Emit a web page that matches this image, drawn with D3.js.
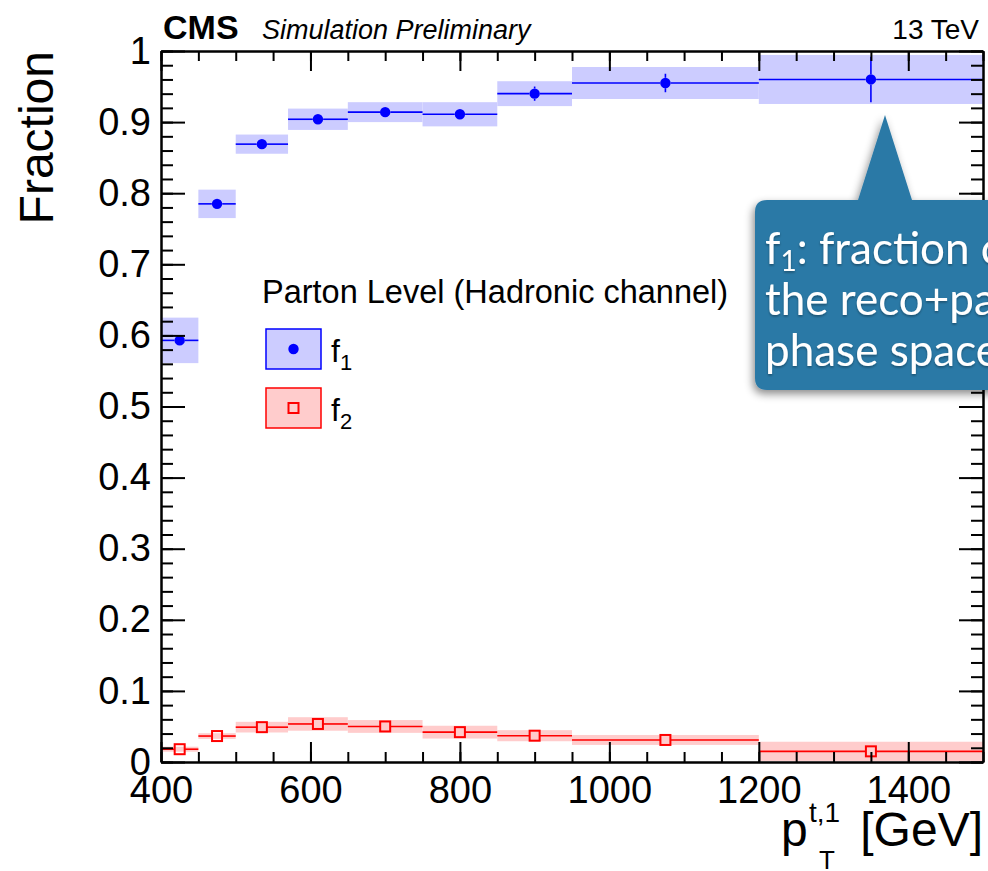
<!DOCTYPE html>
<html>
<head>
<meta charset="utf-8">
<script src="https://cdn.jsdelivr.net/npm/d3@7"></script>
<style>
  body { margin: 0; background: #fff; }
  svg { display: block; font-family: "Liberation Sans", Arial, Helvetica, sans-serif; }
</style>
</head>
<body>
<div id="chart"></div>
<script>
// bin edges of p_T^{t,1} in GeV
const binEdges = [400, 450, 500, 570, 650, 750, 850, 950, 1200, 1500];

// f1 (blue, filled circles): value, stat error, half height of the band
const f1Values = [0.593, 0.785, 0.869, 0.904, 0.914, 0.911, 0.940, 0.955, 0.960];
const f1Errors = [0.006, 0.004, 0.004, 0.004, 0.004, 0.004, 0.010, 0.013, 0.032];
const f1Bands  = [0.032, 0.020, 0.0135, 0.015, 0.014, 0.017, 0.0175, 0.0225, 0.0345];

// f2 (red, open squares)
const f2Values = [0.018, 0.0365, 0.049, 0.0535, 0.050, 0.042, 0.037, 0.031, 0.015];
const f2Errors = [0.003, 0.003, 0.003, 0.003, 0.003, 0.003, 0.003, 0.003, 0.004];
const f2Bands  = [0.0035, 0.004, 0.0075, 0.0095, 0.009, 0.009, 0.0078, 0.007, 0.0135];

// axis ticks
const xTickValues = [400, 600, 800, 1000, 1200, 1400];
const xTickLabels = ["400", "600", "800", "1000", "1200", "1400"];
const yTickValues = [0, 0.1, 0.2, 0.3, 0.4, 0.5, 0.6, 0.7, 0.8, 0.9, 1];
const yTickLabels = ["0", "0.1", "0.2", "0.3", "0.4", "0.5", "0.6", "0.7", "0.8", "0.9", "1"];

const legendTitle = "Parton Level (Hadronic channel)";
const legendNames = ["f", "f"];
const legendSubs = ["1", "2"];
const calloutLines = [": fraction of events in", "the reco+parton level", "phase space"];

const W = 988, H = 871;
const plot = {left: 161, top: 51, right: 983, bottom: 762};

const svg = d3.select("#chart")
    .append("svg")
    .attr("width", W)
    .attr("height", H);

const x = d3.scaleLinear().domain([400, 1500]).range([plot.left, plot.right]);
const y = d3.scaleLinear().domain([0, 1]).range([plot.bottom, plot.top]);

// build bins for each series
function makeBins(values, errors, bands) {
    return values.map((v, i) => ({
        lo: binEdges[i], hi: binEdges[i + 1],
        mid: (binEdges[i] + binEdges[i + 1]) / 2,
        v: v, e: errors[i], b: bands[i]
    }));
}
const series = [
    {bins: makeBins(f1Values, f1Errors, f1Bands), color: "#0000ff", band: "#ccccff", marker: "circle", half: 5.2},
    {bins: makeBins(f2Values, f2Errors, f2Bands), color: "#ff0000", band: "#ffcccc", marker: "square", half: 5}
];

// bands first
series.forEach(s => {
    svg.append("g").selectAll("rect")
        .data(s.bins)
        .join("rect")
        .attr("x", d => x(d.lo))
        .attr("width", d => x(d.hi) - x(d.lo))
        .attr("y", d => y(d.v + d.b))
        .attr("height", d => y(d.v - d.b) - y(d.v + d.b))
        .attr("fill", s.band);
});

// horizontal bin lines and error bars stop at the marker edge (ROOT style)
series.forEach(s => {
    const g = svg.append("g");
    const h = s.half;
    const segs = [];
    s.bins.forEach(d => {
        const cx = x(d.mid), cy = y(d.v);
        segs.push([x(d.lo), cy, cx - h, cy]);
        segs.push([cx + h, cy, x(d.hi), cy]);
        if (y(d.v + d.e) < cy - h) segs.push([cx, y(d.v + d.e), cx, cy - h]);
        if (y(d.v - d.e) > cy + h) segs.push([cx, cy + h, cx, y(d.v - d.e)]);
    });
    g.selectAll("line")
        .data(segs)
        .join("line")
        .attr("x1", d => d[0]).attr("y1", d => d[1])
        .attr("x2", d => d[2]).attr("y2", d => d[3])
        .attr("stroke", s.color)
        .attr("stroke-width", 1.6);
    if (s.marker === "circle") {
        g.selectAll("circle")
            .data(s.bins)
            .join("circle")
            .attr("cx", d => x(d.mid))
            .attr("cy", d => y(d.v))
            .attr("r", h)
            .attr("fill", s.color);
    } else {
        g.selectAll("rect")
            .data(s.bins)
            .join("rect")
            .attr("x", d => x(d.mid) - h)
            .attr("y", d => y(d.v) - h)
            .attr("width", 2 * h)
            .attr("height", 2 * h)
            .attr("fill", "none")
            .attr("stroke", s.color)
            .attr("stroke-width", 2);
    }
});

// axes (ticks point inside the frame)
const xMinor = d3.range(400, 1501, 50);
const yMinor = d3.range(0, 51).map(i => i * 0.02);

function styleAxis(g) {
    g.attr("font-family", null).attr("font-size", null);
    g.selectAll(".domain").attr("stroke", "#000").attr("stroke-width", 2);
    g.selectAll(".tick line").attr("stroke", "#000").attr("stroke-width", 2);
}

const axes = svg.append("g");

axes.append("g")
    .attr("transform", `translate(0,${plot.bottom})`)
    .call(d3.axisBottom(x).tickValues(xMinor).tickSize(-10).tickSizeOuter(0).tickFormat(""))
    .call(styleAxis);
axes.append("g")
    .attr("transform", `translate(0,${plot.bottom})`)
    .call(d3.axisBottom(x).tickValues(xTickValues).tickSize(-20).tickSizeOuter(0)
        .tickPadding(14).tickFormat((d, i) => xTickLabels[i]))
    .call(styleAxis)
    .call(g => g.selectAll("text").attr("font-size", 38).attr("fill", "#000"));

axes.append("g")
    .attr("transform", `translate(0,${plot.top})`)
    .call(d3.axisTop(x).tickValues(xMinor).tickSize(-10).tickSizeOuter(0).tickFormat(""))
    .call(styleAxis);
axes.append("g")
    .attr("transform", `translate(0,${plot.top})`)
    .call(d3.axisTop(x).tickValues(xTickValues).tickSize(-20).tickSizeOuter(0).tickFormat(""))
    .call(styleAxis);

axes.append("g")
    .attr("transform", `translate(${plot.left},0)`)
    .call(d3.axisLeft(y).tickValues(yMinor).tickSize(-12).tickSizeOuter(0).tickFormat(""))
    .call(styleAxis);
axes.append("g")
    .attr("transform", `translate(${plot.left},0)`)
    .call(d3.axisLeft(y).tickValues(yTickValues).tickSize(-24).tickSizeOuter(0)
        .tickPadding(10).tickFormat((d, i) => yTickLabels[i]))
    .call(styleAxis)
    .call(g => g.selectAll("text").attr("font-size", 38).attr("fill", "#000"));

axes.append("g")
    .attr("transform", `translate(${plot.right},0)`)
    .call(d3.axisRight(y).tickValues(yMinor).tickSize(-12).tickSizeOuter(0).tickFormat(""))
    .call(styleAxis);
axes.append("g")
    .attr("transform", `translate(${plot.right},0)`)
    .call(d3.axisRight(y).tickValues(yTickValues).tickSize(-24).tickSizeOuter(0).tickFormat(""))
    .call(styleAxis);

// titles
svg.append("text")
    .attr("x", 163).attr("y", 39)
    .attr("font-size", 34).attr("font-weight", "bold")
    .text("CMS");
svg.append("text")
    .attr("x", 262).attr("y", 39)
    .attr("font-size", 27).attr("font-style", "italic")
    .text("Simulation Preliminary");
svg.append("text")
    .attr("x", 979).attr("y", 39)
    .attr("font-size", 28).attr("text-anchor", "end")
    .text("13 TeV");

svg.append("text")
    .attr("transform", "translate(53,51) rotate(-90)")
    .attr("text-anchor", "end")
    .attr("font-size", 48)
    .text("Fraction");

// x title: p_T^{t,1} [GeV]
const xt = svg.append("g");
xt.append("text").attr("x", 781).attr("y", 846).attr("font-size", 48).text("p");
xt.append("text").attr("x", 809).attr("y", 822).attr("font-size", 28).text("t,1");
xt.append("text").attr("x", 819).attr("y", 869).attr("font-size", 26).text("T");
xt.append("text").attr("x", 983).attr("y", 846).attr("font-size", 48)
    .attr("text-anchor", "end").text("[GeV]");

// legend
const leg = svg.append("g");
leg.append("text").attr("x", 262).attr("y", 303).attr("font-size", 32.5).text(legendTitle);
series.forEach((s, i) => {
    const top = 329 + i * 59;
    leg.append("rect")
        .attr("x", 266).attr("y", top).attr("width", 55).attr("height", 40)
        .attr("fill", s.band).attr("stroke", s.color).attr("stroke-width", 1.5);
    if (s.marker === "circle") {
        leg.append("circle").attr("cx", 293.5).attr("cy", top + 20).attr("r", s.half).attr("fill", s.color);
    } else {
        leg.append("rect").attr("x", 293.5 - s.half).attr("y", top + 20 - s.half)
            .attr("width", 2 * s.half).attr("height", 2 * s.half)
            .attr("fill", "none").attr("stroke", s.color).attr("stroke-width", 2);
    }
    const t = leg.append("text").attr("x", 331).attr("y", top + 33).attr("font-size", 32);
    t.append("tspan").text(legendNames[i]);
    t.append("tspan").attr("dy", 8).attr("font-size", 22).text(legendSubs[i]);
});

// callout bubble
const defs = svg.append("defs");
const sh = defs.append("filter").attr("id", "shadow")
    .attr("x", "-20%").attr("y", "-20%").attr("width", "140%").attr("height", "140%");
sh.append("feDropShadow").attr("dx", -2).attr("dy", 4).attr("stdDeviation", 4)
    .attr("flood-color", "#000").attr("flood-opacity", 0.45);
const tsh = defs.append("filter").attr("id", "tshadow");
tsh.append("feDropShadow").attr("dx", 0).attr("dy", 1.5).attr("stdDeviation", 1)
    .attr("flood-color", "#000").attr("flood-opacity", 0.35);

const cb = {x0: 755, y0: 200, x1: 1010, y1: 390, r: 12};
svg.append("path")
    .attr("d", `M${cb.x0 + cb.r},${cb.y0} L858,${cb.y0} L885,115 L912,${cb.y0} L${cb.x1},${cb.y0}
        L${cb.x1},${cb.y1} L${cb.x0 + cb.r},${cb.y1} Q${cb.x0},${cb.y1} ${cb.x0},${cb.y1 - cb.r}
        L${cb.x0},${cb.y0 + cb.r} Q${cb.x0},${cb.y0} ${cb.x0 + cb.r},${cb.y0} Z`)
    .attr("fill", "#2c79a6")
    .attr("filter", "url(#shadow)");

const ct = svg.append("g")
    .attr("font-family", "Lato, 'Open Sans', sans-serif")
    .attr("font-size", 44)
    .attr("fill", "#fff")
    .attr("filter", "url(#tshadow)");
const l1 = ct.append("text").attr("x", 765).attr("y", 264);
l1.append("tspan").text("f");
l1.append("tspan").attr("dy", 7).attr("font-size", 28).text("1");
l1.append("tspan").attr("dy", -7).text(calloutLines[0]);
ct.append("text").attr("x", 765).attr("y", 315).text(calloutLines[1]);
ct.append("text").attr("x", 765).attr("y", 366).text(calloutLines[2]);
</script>
</body>
</html>
